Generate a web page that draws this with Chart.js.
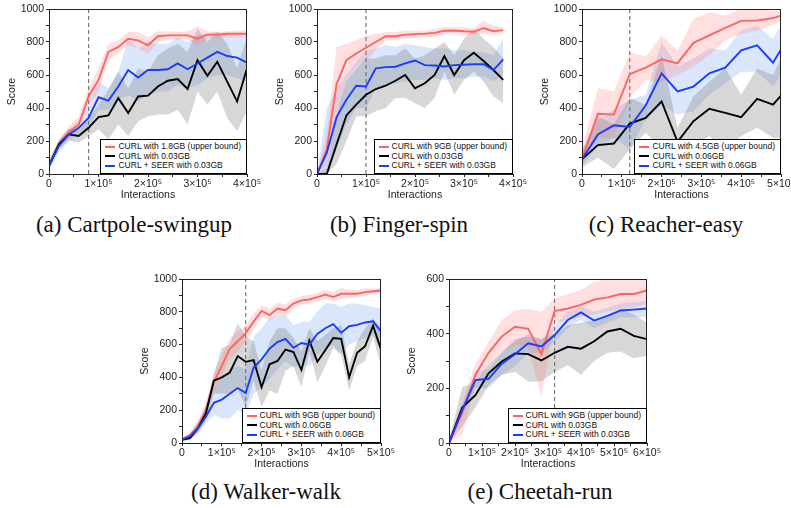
<!DOCTYPE html>
<html>
<head>
<meta charset="utf-8">
<script src="https://cdn.jsdelivr.net/npm/chart.js@4.4.1/dist/chart.umd.min.js"></script>
<style>
  body { margin: 0; width: 791px; height: 508px; background: #fff; overflow: hidden; position: relative; font-family: 'Liberation Sans', Arial, sans-serif; }
  canvas { position: absolute; }
  .cap { position: absolute; font-family: 'Liberation Serif', 'Times New Roman', serif; font-size: 23px; color: #111; white-space: nowrap; transform: translateX(-50%); }
  .leg { position: absolute; border: 1px solid #000; background: #fff; font-size: 8.5px; line-height: 9.7px; padding: 2px 5px 2px 4px; color: #111; white-space: nowrap; }
  .leg .sw { display: inline-block; width: 10px; height: 2px; margin-right: 3px; vertical-align: middle; }
</style>
</head>
<body>
<script>
// (a) Cartpole-swingup
const cartX = [0,20000,40000,60000,80000,100000,120000,140000,160000,180000,200000,220000,240000,260000,280000,300000,320000,340000,360000,380000,400000];
const cartRed = [55,180,255,300,470,570,740,770,820,810,780,835,840,840,840,820,845,845,850,850,850];
const cartRedHi = [85,205,290,350,520,640,790,810,860,860,830,865,865,860,865,895,865,860,865,870,870];
const cartRedLo = [35,160,220,265,420,500,690,730,780,760,730,800,815,815,815,780,820,825,830,835,830];
const cartBlack = [50,180,240,230,280,345,355,460,370,470,475,530,565,575,515,690,595,680,560,440,640];
const cartBlackHi = [75,210,275,275,330,420,510,620,520,640,620,720,760,790,740,880,800,860,790,640,830];
const cartBlackLo = [30,150,205,190,230,270,210,300,230,320,350,360,360,390,300,500,420,500,340,260,380];
const cartBlue = [50,170,240,280,340,465,445,530,630,585,630,630,635,670,635,670,705,740,715,705,675];
const cartBlueHi = [80,200,270,320,420,560,520,620,820,760,800,790,790,830,800,840,850,860,840,840,840];
const cartBlueLo = [25,130,200,240,270,390,390,450,480,440,480,500,500,540,520,540,580,600,600,580,560];

// (b) Finger-spin
const fingX = [0,20000,40000,60000,80000,100000,120000,140000,160000,180000,200000,220000,240000,260000,280000,300000,320000,340000,360000,380000];
const fingRed = [0,150,545,690,730,765,800,835,835,845,848,850,855,868,870,865,862,885,865,872];
const fingRedHi = [0,250,770,790,810,840,850,860,860,870,870,870,880,890,890,890,880,930,900,890];
const fingRedLo = [0,50,300,560,650,690,750,810,810,820,825,830,830,845,850,840,845,850,840,850];
const fingBlack = [0,0,180,355,420,480,515,535,565,600,520,550,600,715,600,690,735,685,630,570];
const fingBlackHi = [0,40,350,560,640,700,700,720,720,760,700,720,760,800,720,820,880,820,770,700];
const fingBlackLo = [0,0,60,200,350,350,380,400,460,460,430,400,460,620,480,570,620,560,470,430];
const fingBlue = [0,130,345,450,535,530,640,648,650,670,688,660,658,652,660,662,665,665,630,695];
const fingBlueHi = [0,400,520,600,680,750,760,780,770,790,780,770,760,760,750,750,740,740,720,820];
const fingBlueLo = [0,0,150,300,400,400,520,540,550,560,570,570,580,570,580,580,590,590,560,600];

// (c) Reacher-easy
const reachX = [0,40000,80000,120000,160000,200000,240000,280000,320000,360000,400000,440000,480000,500000];
const reachRed = [90,365,360,605,645,695,670,795,840,885,928,930,945,960];
const reachRedHi = [150,520,500,740,710,840,750,940,980,960,1000,1000,990,990];
const reachRedLo = [60,220,220,460,570,560,600,650,720,810,850,870,900,930];
const reachBlack = [90,175,185,305,340,440,195,320,395,370,345,455,420,475];
const reachBlackHi = [140,350,300,460,420,720,280,470,560,640,480,640,600,700];
const reachBlackLo = [40,100,30,150,250,160,100,170,230,140,230,280,220,220];
const reachBlue = [90,240,295,285,415,610,500,530,610,645,750,780,675,755];
const reachBlueHi = [140,330,390,450,480,800,650,700,760,750,870,900,820,900];
const reachBlueLo = [50,170,220,150,330,420,360,380,480,550,620,620,530,600];

// (d) Walker-walk
const walkX = [0,20000,40000,60000,80000,100000,120000,140000,160000,180000,200000,220000,240000,260000,280000,300000,320000,340000,360000,380000,400000,420000,440000,460000,480000,500000];
const walkRed = [20,50,100,200,370,470,575,620,670,740,805,780,820,810,850,870,875,890,905,890,910,910,910,920,925,930];
const walkRedHi = [30,65,135,245,420,530,640,680,720,790,840,820,855,845,880,895,905,915,935,920,945,935,935,945,940,945];
const walkRedLo = [12,35,70,155,310,410,510,560,620,690,765,745,785,775,820,845,850,865,880,865,880,885,890,900,910,915];
const walkBlack = [20,30,90,180,380,400,430,530,495,505,340,480,500,570,555,445,625,495,565,640,635,400,550,590,715,570];
const walkBlackHi = [28,45,125,225,420,580,600,730,650,620,440,620,700,700,640,560,700,620,660,700,720,480,620,700,760,700];
const walkBlackLo = [12,20,60,140,300,300,300,330,220,380,220,320,300,440,470,340,560,370,470,580,540,320,470,500,650,470];
const walkBlue = [20,40,90,160,245,265,300,335,305,460,510,575,615,635,580,610,600,665,700,725,672,712,720,735,742,680];
const walkBlueHi = [30,55,120,200,330,400,450,470,450,650,700,760,780,780,720,740,740,800,850,850,830,850,850,840,830,820];
const walkBlueLo = [10,25,60,120,170,150,150,200,170,300,340,390,450,500,460,480,470,540,570,600,540,600,620,640,660,560];

// (e) Cheetah-run
const cheetX = [0,40000,80000,120000,160000,200000,240000,280000,320000,360000,400000,440000,480000,520000,560000,600000];
const cheetRed = [0,110,250,330,390,425,418,325,483,492,505,525,533,545,545,558];
const cheetRedHi = [10,150,290,370,450,485,490,480,530,545,560,590,600,600,600,600];
const cheetRedLo = [0,30,210,290,330,360,350,170,440,450,460,470,480,490,495,510];
const cheetBlack = [0,130,175,255,298,328,325,302,330,352,345,372,408,418,392,380];
const cheetBlackHi = [10,205,220,290,330,380,390,380,400,430,440,450,460,490,470,440];
const cheetBlackLo = [0,60,130,210,250,260,225,225,260,285,250,300,330,335,310,320];
const cheetBlue = [0,120,230,235,290,325,365,353,395,450,478,448,465,485,488,492];
const cheetBlueHi = [5,140,260,270,330,370,400,380,430,480,500,480,495,510,515,520];
const cheetBlueLo = [0,100,200,200,250,280,330,330,370,420,450,420,440,460,460,460];

const RED = '#ff6464', BLACK = '#000000', BLUE = '#1a3cff';
const RED_BAND = 'rgba(255,110,110,0.22)', GRAY_BAND = 'rgba(110,110,110,0.28)', BLUE_BAND = 'rgba(80,140,235,0.22)';

Chart.defaults.font.family = "'Liberation Sans', Arial, sans-serif";
Chart.defaults.font.size = 10.5;
Chart.defaults.color = '#222';

const frame = {
    id: 'frame',
    afterDraw(chart) {
        const a = chart.chartArea, ctx = chart.ctx;
        ctx.save();
        ctx.strokeStyle = '#222';
        ctx.lineWidth = 1;
        ctx.strokeRect(Math.round(a.left) + 0.5, Math.round(a.top) + 0.5, Math.round(a.right - a.left) - 1, Math.round(a.bottom - a.top));
        ctx.restore();
    }
};

function pts(xs, ys) {
    return xs.map((x, i) => ({ x: x, y: ys[i] }));
}

function sup(v) {
    if (v === 0) return '0';
    if (v % 100000 !== 0) return '';
    return (v / 100000) + '\u00d710\u2075';
}

function panel(p) {
    const padTop = 10, padRight = 18, yw = 43, xh = 27;
    const cv = document.createElement('canvas');
    cv.width = yw + (p.R - p.L) + padRight;
    cv.height = padTop + (p.B - p.T) + xh;
    cv.style.left = (p.L - yw) + 'px';
    cv.style.top = (p.T - padTop) + 'px';
    document.body.appendChild(cv);

    const band = (hi, lo, color) => [
        { data: pts(p.x, hi), borderWidth: 0, pointRadius: 0, fill: false, order: 10 },
        { data: pts(p.x, lo), borderWidth: 0, pointRadius: 0, fill: '-1', backgroundColor: color, order: 10 }
    ];
    const line = (ys, color, order) => ({
        data: pts(p.x, ys), borderColor: color, borderWidth: 1.9, pointRadius: 0, fill: false, order: order
    });

    new Chart(cv, {
        type: 'line',
        data: {
            datasets: [
                ...band(p.redHi, p.redLo, RED_BAND),
                ...band(p.blackHi, p.blackLo, GRAY_BAND),
                ...band(p.blueHi, p.blueLo, BLUE_BAND),
                line(p.red, RED, 3),
                line(p.black, BLACK, 2),
                line(p.blue, BLUE, 1),
                { data: [{ x: p.dash, y: 0 }, { x: p.dash, y: p.ymax }], borderColor: '#777', borderWidth: 1.2,
                  borderDash: [4, 3], pointRadius: 0, fill: false, order: 20 }
            ]
        },
        options: {
            responsive: false,
            animation: false,
            devicePixelRatio: 1,
            layout: { padding: { top: padTop, right: padRight, left: 0, bottom: 0 } },
            plugins: { legend: { display: false }, tooltip: { enabled: false } },
            scales: {
                x: {
                    type: 'linear', min: 0, max: p.xmax,
                    afterFit: s => { s.height = xh; },
                    ticks: { stepSize: 50000, autoSkip: false, maxRotation: 0, padding: 1, callback: v => sup(v) },
                    grid: { drawOnChartArea: false, tickLength: 3, color: '#222' },
                    border: { color: '#222' },
                    title: { display: true, text: 'Interactions', padding: 0 }
                },
                y: {
                    min: 0, max: p.ymax,
                    afterFit: s => { s.width = yw; },
                    ticks: { stepSize: 100, autoSkip: false, padding: 2, callback: v => (v % 200 === 0 ? v : '') },
                    grid: { drawOnChartArea: false, tickLength: 3, color: '#222' },
                    border: { color: '#222' },
                    title: { display: true, text: 'Score', padding: 0 }
                }
            }
        },
        plugins: [frame]
    });

    const leg = document.createElement('div');
    leg.className = 'leg';
    leg.style.right = (791 - p.R) + 'px';
    leg.style.bottom = (508 - p.B) + 'px';
    leg.innerHTML = p.labels.map((t, i) =>
        '<div><span class="sw" style="background:' + [RED, BLACK, BLUE][i] + '"></span>' + t + '</div>').join('');
    document.body.appendChild(leg);

    const cap = document.createElement('div');
    cap.className = 'cap';
    cap.style.left = p.capX + 'px';
    cap.style.top = p.capY + 'px';
    cap.textContent = p.caption;
    document.body.appendChild(cap);
}

panel({ L: 49, R: 247, T: 9, B: 174, xmax: 400000, ymax: 1000, dash: 80000, x: cartX,
    red: cartRed, redHi: cartRedHi, redLo: cartRedLo, black: cartBlack, blackHi: cartBlackHi, blackLo: cartBlackLo,
    blue: cartBlue, blueHi: cartBlueHi, blueLo: cartBlueLo,
    labels: ['CURL with 1.8GB (upper bound)', 'CURL with 0.03GB', 'CURL + SEER with 0.03GB'],
    caption: '(a) Cartpole-swingup', capX: 134, capY: 212 });

panel({ L: 317, R: 513, T: 9, B: 174, xmax: 400000, ymax: 1000, dash: 100000, x: fingX,
    red: fingRed, redHi: fingRedHi, redLo: fingRedLo, black: fingBlack, blackHi: fingBlackHi, blackLo: fingBlackLo,
    blue: fingBlue, blueHi: fingBlueHi, blueLo: fingBlueLo,
    labels: ['CURL with 9GB (upper bound)', 'CURL with 0.03GB', 'CURL + SEER with 0.03GB'],
    caption: '(b) Finger-spin', capX: 399, capY: 212 });

panel({ L: 582, R: 781, T: 9, B: 174, xmax: 500000, ymax: 1000, dash: 120000, x: reachX,
    red: reachRed, redHi: reachRedHi, redLo: reachRedLo, black: reachBlack, blackHi: reachBlackHi, blackLo: reachBlackLo,
    blue: reachBlue, blueHi: reachBlueHi, blueLo: reachBlueLo,
    labels: ['CURL with 4.5GB (upper bound)', 'CURL with 0.06GB', 'CURL + SEER with 0.06GB'],
    caption: '(c) Reacher-easy', capX: 666, capY: 212 });

panel({ L: 182, R: 381, T: 279, B: 443, xmax: 500000, ymax: 1000, dash: 160000, x: walkX,
    red: walkRed, redHi: walkRedHi, redLo: walkRedLo, black: walkBlack, blackHi: walkBlackHi, blackLo: walkBlackLo,
    blue: walkBlue, blueHi: walkBlueHi, blueLo: walkBlueLo,
    labels: ['CURL with 9GB (upper bound)', 'CURL with 0.06GB', 'CURL + SEER with 0.06GB'],
    caption: '(d) Walker-walk', capX: 266, capY: 479 });

panel({ L: 449, R: 647, T: 279, B: 443, xmax: 600000, ymax: 600, dash: 320000, x: cheetX,
    red: cheetRed, redHi: cheetRedHi, redLo: cheetRedLo, black: cheetBlack, blackHi: cheetBlackHi, blackLo: cheetBlackLo,
    blue: cheetBlue, blueHi: cheetBlueHi, blueLo: cheetBlueLo,
    labels: ['CURL with 9GB (upper bound)', 'CURL with 0.03GB', 'CURL + SEER with 0.03GB'],
    caption: '(e) Cheetah-run', capX: 540, capY: 479 });
</script>
</body>
</html>
